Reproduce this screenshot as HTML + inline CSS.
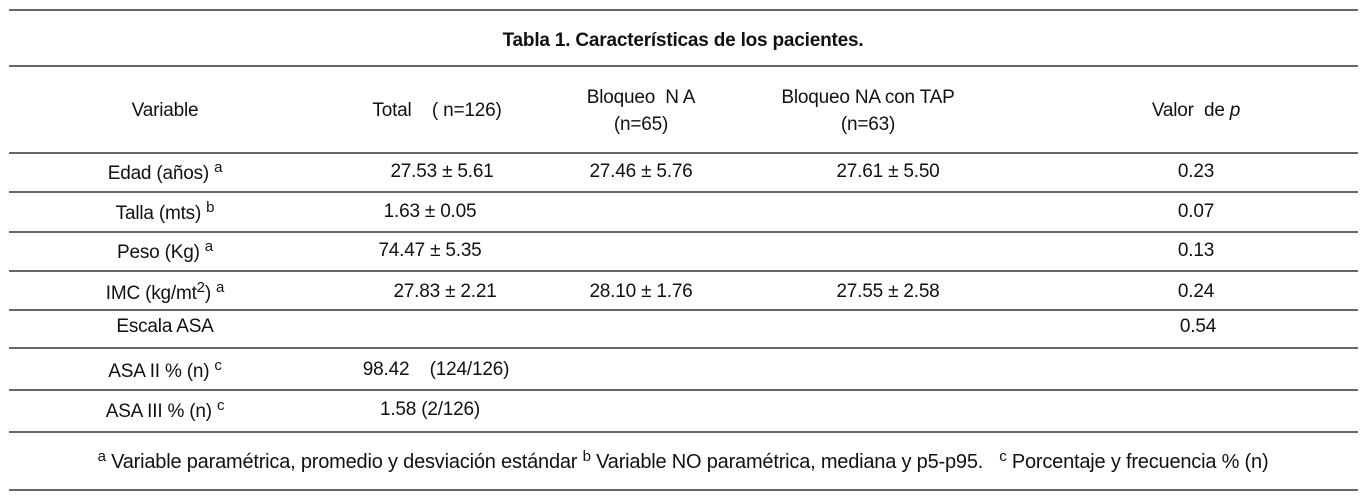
<!DOCTYPE html>
<html><head><meta charset="utf-8"><style>
body{margin:0;width:1366px;height:496px;background:#fff;position:relative;overflow:hidden;font-family:"Liberation Sans",sans-serif;color:#111;font-size:19px}
.l{position:absolute;left:9px;width:1349px;height:2px;background:#666}
.t{position:absolute;transform:translate(-50%,-50%);white-space:nowrap;letter-spacing:-0.2px}
sup{font-size:15px;vertical-align:7px}
</style></head><body>
<div class="l" style="top:9px"></div>
<div class="l" style="top:65px"></div>
<div class="l" style="top:152px"></div>
<div class="l" style="top:191px"></div>
<div class="l" style="top:231px"></div>
<div class="l" style="top:270px"></div>
<div class="l" style="top:309px"></div>
<div class="l" style="top:347px"></div>
<div class="l" style="top:389px"></div>
<div class="l" style="top:431px"></div>
<div class="l" style="top:489px"></div>

<div class="t" style="left:683px;top:41px;font-weight:bold">Tabla 1. Características de los pacientes.</div>
<div class="t" style="left:165px;top:111px">Variable</div>
<div class="t" style="left:437px;top:111px">Total&nbsp;&nbsp;&nbsp; ( n=126)</div>
<div class="t" style="left:641px;top:98px">Bloqueo&nbsp; N A</div>
<div class="t" style="left:641px;top:125px">(n=65)</div>
<div class="t" style="left:868px;top:98px">Bloqueo NA con TAP</div>
<div class="t" style="left:868px;top:125px">(n=63)</div>
<div class="t" style="left:1196px;top:111px">Valor&nbsp; de <i>p</i></div>

<div class="t" style="left:165px;top:172px">Edad (años) <sup>a</sup></div>
<div class="t" style="left:442px;top:172px">27.53 ± 5.61</div>
<div class="t" style="left:641px;top:172px">27.46 ± 5.76</div>
<div class="t" style="left:888px;top:172px">27.61 ± 5.50</div>
<div class="t" style="left:1196px;top:172px">0.23</div>

<div class="t" style="left:165px;top:212px">Talla (mts) <sup>b</sup></div>
<div class="t" style="left:430px;top:212px">1.63 ± 0.05</div>
<div class="t" style="left:1196px;top:212px">0.07</div>

<div class="t" style="left:165px;top:251px">Peso (Kg) <sup>a</sup></div>
<div class="t" style="left:430px;top:251px">74.47 ± 5.35</div>
<div class="t" style="left:1196px;top:251px">0.13</div>

<div class="t" style="left:165px;top:292px">IMC (kg/mt<sup>2</sup>) <sup>a</sup></div>
<div class="t" style="left:445px;top:292px">27.83 ± 2.21</div>
<div class="t" style="left:641px;top:292px">28.10 ± 1.76</div>
<div class="t" style="left:888px;top:292px">27.55 ± 2.58</div>
<div class="t" style="left:1196px;top:292px">0.24</div>

<div class="t" style="left:165px;top:327px">Escala ASA</div>
<div class="t" style="left:1198px;top:327px">0.54</div>

<div class="t" style="left:165px;top:370px">ASA II % (n) <sup>c</sup></div>
<div class="t" style="left:436px;top:370px">98.42&nbsp;&nbsp;&nbsp; (124/126)</div>

<div class="t" style="left:165px;top:410px">ASA III % (n) <sup>c</sup></div>
<div class="t" style="left:430px;top:410px">1.58 (2/126)</div>

<div class="t" style="left:683px;top:461px;font-size:20px"><sup>a</sup> Variable paramétrica, promedio y desviación estándar <sup>b</sup> Variable NO paramétrica, mediana y p5-p95.&nbsp;&nbsp; <sup>c</sup> Porcentaje y frecuencia % (n)</div>
</body></html>
